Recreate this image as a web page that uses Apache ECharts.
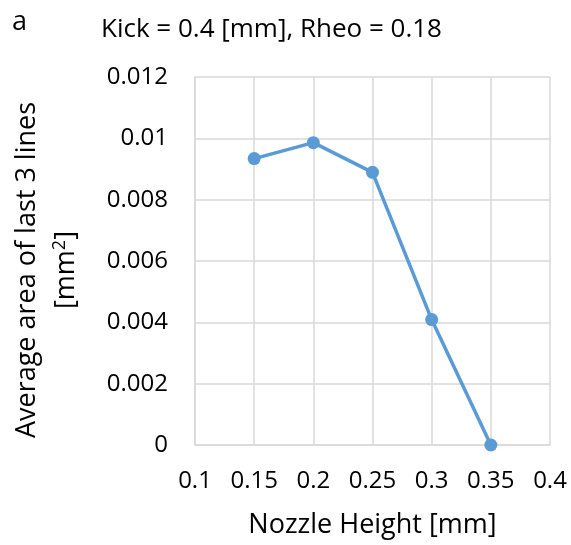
<!DOCTYPE html>
<html>
<head>
<meta charset="utf-8">
<script src="https://cdn.jsdelivr.net/npm/echarts@6/dist/echarts.min.js"></script>
<style>html,body{margin:0;padding:0;background:#fff;}#c{width:571px;height:545px;}</style>
</head>
<body>
<div id="c"></div>
<script>
const nozzleHeight = [0.15, 0.2, 0.25, 0.3, 0.35];
const avgArea = [0.00934, 0.00986, 0.00889, 0.00409, 0.0];
const titleText = 'Kick = 0.4 [mm], Rheo = 0.18';
const panelLabel = 'a';
const xName = 'Nozzle Height [mm]';

const FONT = 'Open Sans';
const chart = echarts.init(document.getElementById('c'));
const fmt = v => parseFloat(Number(v).toFixed(4)).toString();
chart.setOption({
  backgroundColor: '#fff',
  animation: false,
  textStyle: {fontFamily: FONT},
  title: {
    text: titleText, left: 96, top: 12,
    textStyle: {fontFamily: FONT, fontSize: 26, fontWeight: 'normal', color: '#000'}
  },
  graphic: [{
    type: 'text', left: 12, top: 9,
    style: {text: panelLabel, font: '27px "Open Sans"', fill: '#000'}
  }],
  grid: {left: 193, right: 21, top: 77, bottom: 100, containLabel: false},
  xAxis: {
    type: 'value', min: 0.1, max: 0.4, interval: 0.05,
    name: xName, nameLocation: 'middle', nameGap: 67,
    nameTextStyle: {fontFamily: FONT, fontSize: 27, color: '#000'},
    axisLine: {show: true, lineStyle: {color: '#d9d9d9', width: 1.5}},
    axisTick: {show: false},
    axisLabel: {formatter: fmt, fontFamily: FONT, fontSize: 24, color: '#000', margin: 24},
    splitLine: {show: true, lineStyle: {color: '#d9d9d9', width: 1.5}}
  },
  yAxis: {
    type: 'value', min: 0, max: 0.012, interval: 0.002,
    name: '{a|Average area of last 3 lines}\n{a|[mm}{s|2}{a|]}',
    nameLocation: 'middle', nameGap: 109, nameRotate: 90,
    nameTextStyle: {
      fontFamily: FONT, color: '#000', lineHeight: 39, align: 'center',
      padding: [0, 18, 0, 0],
      rich: {
        a: {fontFamily: FONT, fontSize: 27, color: '#000', lineHeight: 39},
        s: {fontFamily: FONT, fontSize: 18, color: '#000', lineHeight: 39, verticalAlign: 'middle', padding: [0, 0, 14, 0]}
      }
    },
    axisLine: {show: true, lineStyle: {color: '#d9d9d9', width: 1.5}},
    axisTick: {show: false},
    axisLabel: {formatter: fmt, fontFamily: FONT, fontSize: 24, color: '#000', margin: 27},
    splitLine: {show: true, lineStyle: {color: '#d9d9d9', width: 1.5}}
  },
  series: [{
    type: 'line',
    data: nozzleHeight.map((x, i) => [x, avgArea[i]]),
    symbol: 'circle', symbolSize: 13,
    lineStyle: {color: '#5b9bd5', width: 3.5},
    itemStyle: {color: '#5b9bd5'}
  }]
});
</script>
</body>
</html>
